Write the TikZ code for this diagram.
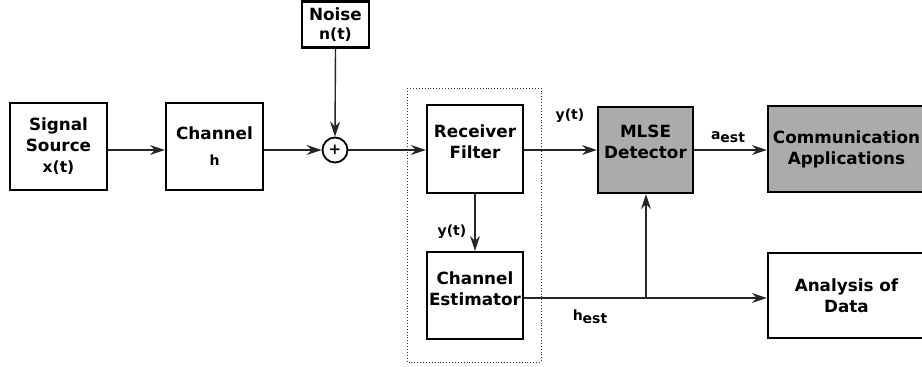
\documentclass[tikz,border=0pt]{standalone}
\usepackage{fontspec}
\setmainfont{DejaVu Sans}
\usetikzlibrary{arrows.meta,calc}
\begin{document}
\begin{tikzpicture}[x=1pt,y=-1pt,
  blk/.style={draw=black, line width=2.2pt, inner sep=0pt, align=center,
    font=\fontsize{16.8}{21}\selectfont\bfseries},
  grayblk/.style={blk, fill=black!33},
  sig/.style={draw=black!85, line width=1.4pt},
  arr/.style={sig, -{Stealth[length=15pt,width=10pt,inset=5pt]}},
  lbl/.style={inner sep=0pt, font=\fontsize{14}{15}\selectfont\bfseries}
]
\useasboundingbox (0,0) rectangle (922,367);
\clip (0,0) rectangle (922,367);
% dotted group
\draw[dotted, line width=0.9pt, black!80] (407,88) rectangle (541,362);
% boxes
\node[blk, minimum width=97pt, minimum height=87pt] (src) at (58.5,146.5) {Signal\\Source\\{\fontsize{15.5}{15}\selectfont x(t)}};
\node[blk, minimum width=97pt, minimum height=87pt] (ch) at (214.5,146.5) {Channel\\[5pt]{\fontsize{14}{13}\selectfont h}};
\node[blk, minimum width=67pt, minimum height=46pt] (noise) at (335.5,24.5) {Noise\\[-2pt]{\fontsize{15.5}{15}\selectfont n(t)}};
\node[draw=black, line width=1.8pt, circle, minimum size=25pt, inner sep=0pt, font=\fontsize{15}{15}\selectfont\bfseries] (sum) at (335,150) {+};
\node[blk, minimum width=96pt, minimum height=88pt] (rf) at (475,149) {Receiver\\Filter\\[-6pt]};
\node[grayblk, minimum width=95pt, minimum height=86pt] (mlse) at (645.5,150) {MLSE\\Detector\\[-4pt]};
\node[grayblk, minimum width=157pt, minimum height=86pt] (comm) at (846.5,149) {Communication\\Applications};
\node[blk, minimum width=96pt, minimum height=87pt] (est) at (475,295.5) {Channel\\Estimator\\[-8pt]};
\node[blk, minimum width=157pt, minimum height=85pt] (ana) at (846.5,295.5) {Analysis of\\Data};
% connectors
\draw[arr] (src.east |- sum) -- (ch.west |- sum);
\draw[arr] (ch.east |- sum) -- (sum.west);
\draw[arr] (noise.south) -- (sum.north);
\draw[arr] (sum.east) -- (rf.west |- sum);
\draw[arr] (rf.east |- mlse) -- (mlse.west);
\draw[arr] (mlse.east) -- (comm.west |- mlse);
\draw[arr] (rf.south) -- (est.north);
\coordinate (br) at (646,298);
\draw[arr] (est.east |- br) -- (ana.west |- br);
\draw[arr] (br) -- (br |- mlse.south);
% labels
\node[lbl] (ly1) at (570,116) {y(t)};
\node[lbl] (ly2) at (452,232) {y(t)};
\node[lbl] (la) at (728,137) {a\raisebox{-3.5pt}{est}};
\node[lbl] (lh) at (590,317) {h\raisebox{-3.5pt}{est}};
\end{tikzpicture}
\end{document}
